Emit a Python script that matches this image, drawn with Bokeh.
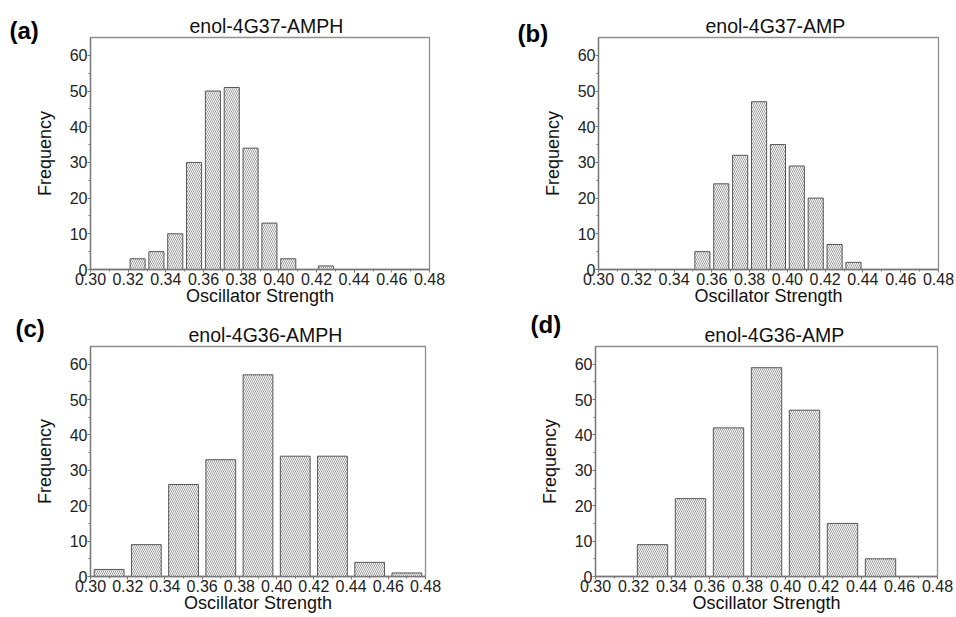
from bokeh.plotting import figure
from bokeh.layouts import column, row
from bokeh.models import Range1d, Label, Title, FixedTicker, NumeralTickFormatter
from bokeh.embed import file_html
from bokeh.resources import INLINE

# ---------------- data ----------------
titles = ["enol-4G37-AMPH", "enol-4G37-AMP", "enol-4G36-AMPH", "enol-4G36-AMP"]
panel_tags = ["(a)", "(b)", "(c)", "(d)"]

a_bins = [0.325, 0.335, 0.345, 0.355, 0.365, 0.375, 0.385, 0.395, 0.405, 0.425]
a_counts = [3, 5, 10, 30, 50, 51, 34, 13, 3, 1]
a_binwidth = 0.01

b_bins = [0.355, 0.365, 0.375, 0.385, 0.395, 0.405, 0.415, 0.425, 0.435]
b_counts = [5, 24, 32, 47, 35, 29, 20, 7, 2]
b_binwidth = 0.01

c_bins = [0.31, 0.33, 0.35, 0.37, 0.39, 0.41, 0.43, 0.45, 0.47]
c_counts = [2, 9, 26, 33, 57, 34, 34, 4, 1]
c_binwidth = 0.02

d_bins = [0.33, 0.35, 0.37, 0.39, 0.41, 0.43, 0.45]
d_counts = [9, 22, 42, 59, 47, 15, 5]
d_binwidth = 0.02

x_ticks = [0.30, 0.32, 0.34, 0.36, 0.38, 0.40, 0.42, 0.44, 0.46, 0.48]
x_minor = [0.31, 0.33, 0.35, 0.37, 0.39, 0.41, 0.43, 0.45, 0.47]
y_ticks = [0, 10, 20, 30, 40, 50, 60]
y_minor = [5, 15, 25, 35, 45, 55]

FONT = "Liberation Sans"


def make_panel(title, tag, bins, counts, binwidth, fw, fh, bl, br, bt, bb,
               tag_x, tag_y, title_x):
    p = figure(output_backend="svg", toolbar_location=None,
               width=bl + fw + br, height=bt + fh + bb,
               min_border_left=bl, min_border_right=br,
               min_border_top=bt, min_border_bottom=bb,
               x_range=Range1d(0.30, 0.48), y_range=Range1d(0, 65))
    p.title = Title(text=title, align="left", offset=title_x,
                    text_font=FONT, text_font_size="19.5px",
                    text_font_style="normal", text_color="#111111", standoff=1)
    p.background_fill_color = "white"
    p.border_fill_color = "white"
    p.outline_line_color = "#8f8f8f"
    p.outline_line_width = 1.3
    p.xgrid.visible = False
    p.ygrid.visible = False

    p.vbar(x=bins, top=counts, width=binwidth * 0.8, bottom=0,
           fill_color="white", line_color="#555555", line_width=1,
           hatch_pattern="\\", hatch_scale=4, hatch_weight=0.8,
           hatch_color="#858585")

    xa = p.xaxis[0]
    xa.ticker = FixedTicker(ticks=x_ticks, minor_ticks=x_minor)
    xa.formatter = NumeralTickFormatter(format="0.00")
    xa.axis_label = "Oscillator Strength"
    ya = p.yaxis[0]
    ya.ticker = FixedTicker(ticks=y_ticks, minor_ticks=y_minor)
    ya.axis_label = "Frequency"
    for ax in (xa, ya):
        ax.axis_line_color = "#777777"
        ax.axis_line_width = 1.3
        ax.major_tick_line_color = "#777777"
        ax.minor_tick_line_color = "#777777"
        ax.major_tick_in = 0
        ax.major_tick_out = 3
        ax.minor_tick_in = 0
        ax.minor_tick_out = 2
        ax.major_label_text_font = FONT
        ax.major_label_text_font_size = "16px"
        ax.major_label_text_color = "#222222"
        ax.axis_label_text_font = FONT
        ax.axis_label_text_font_size = "18px"
        ax.axis_label_text_font_style = "normal"
        ax.axis_label_text_color = "#111111"
        ax.major_label_standoff = 0
    xa.axis_label_standoff = -2
    ya.axis_label_standoff = 12

    lab = Label(x=tag_x, y=tag_y, x_units="canvas", y_units="canvas",
                text=tag, text_font=FONT, text_font_size="24px",
                text_font_style="bold", text_color="#000000",
                text_baseline="alphabetic", text_align="left")
    p.add_layout(lab, "left")
    return p


# row 1: second figure starts at x=503; row 2: second figure starts at x=500
pa = make_panel(titles[0], panel_tags[0], a_bins, a_counts, a_binwidth,
                339, 232, 90, 74, 37, 39, tag_x=9, tag_y=30, title_x=99)
pb = make_panel(titles[1], panel_tags[1], b_bins, b_counts, b_binwidth,
                340, 232, 95, 16, 37, 39, tag_x=14, tag_y=33, title_x=107)
pc = make_panel(titles[2], panel_tags[2], c_bins, c_counts, c_binwidth,
                335, 231, 90, 75, 38, 39, tag_x=15, tag_y=20, title_x=98)
pd_ = make_panel(titles[3], panel_tags[3], d_bins, d_counts, d_binwidth,
                 342, 235, 95, 17, 33, 40, tag_x=30, tag_y=16, title_x=109)

layout = column(row(pa, pb), row(pc, pd_))

open("out.html", "w").write(file_html(layout, INLINE))
